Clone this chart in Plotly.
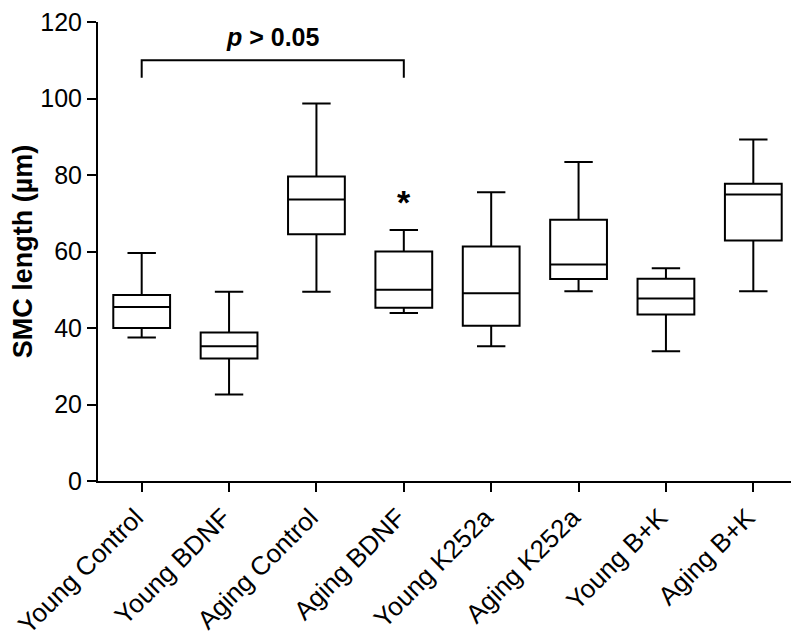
import plotly.graph_objects as go

categories = ["Young Control", "Young BDNF", "Aging Control", "Aging BDNF",
              "Young K252a", "Aging K252a", "Young B+K", "Aging B+K"]
whisker_min = [37.5, 22.6, 49.5, 43.9, 35.2, 49.6, 33.9, 49.6]
q1_vals     = [40.0, 32.0, 64.5, 45.3, 40.6, 52.8, 43.5, 62.9]
median_vals = [45.5, 35.2, 73.6, 50.0, 49.1, 56.6, 47.7, 74.9]
q3_vals     = [48.6, 38.8, 79.6, 60.0, 61.3, 68.3, 52.9, 77.7]
whisker_max = [59.6, 49.5, 98.7, 65.6, 75.5, 83.4, 55.6, 89.3]
y_ticks = [0, 20, 40, 60, 80, 100, 120]

bracket_groups = ["Young Control", "Aging BDNF"]
bracket_level = 110.0
bracket_drop = 4.6
bracket_label = "<b><i>p</i> &gt; 0.05</b>"
bracket_label_y = 116.0
star_group = "Aging BDNF"
star_y = 73.0

FONT = "Liberation Sans, Arial, sans-serif"

fig = go.Figure()
fig.add_trace(go.Box(
    x=categories,
    q1=q1_vals, median=median_vals, q3=q3_vals,
    lowerfence=whisker_min, upperfence=whisker_max,
    boxpoints=False,
    fillcolor="white",
    line=dict(color="black", width=2),
    width=0.65,
    whiskerwidth=0.5,
    showlegend=False,
    hoverinfo="skip",
))

i0 = categories.index(bracket_groups[0])
i1 = categories.index(bracket_groups[1])
fig.add_shape(type="path",
              path=f"M {i0} {bracket_level - bracket_drop} L {i0} {bracket_level} "
                   f"L {i1} {bracket_level} L {i1} {bracket_level - bracket_drop}",
              xref="x", yref="y", line=dict(color="black", width=2))
fig.add_annotation(x=(i0 + i1) / 2, y=bracket_label_y, xref="x", yref="y",
                   text=bracket_label, showarrow=False,
                   font=dict(family=FONT, size=25, color="black"))
fig.add_annotation(x=categories.index(star_group), y=star_y, xref="x", yref="y",
                   text="<b>*</b>", showarrow=False,
                   font=dict(family=FONT, size=34, color="black"))

fig.update_layout(
    width=799, height=643,
    margin=dict(l=90, r=10, t=14, b=170),
    plot_bgcolor="white", paper_bgcolor="white",
    font=dict(family=FONT, color="black"),
)
fig.update_xaxes(
    type="category", range=[-0.5, 7.5], automargin=False,
    showline=True, linecolor="black", linewidth=2,
    ticks="outside", ticklen=9, tickwidth=2, tickcolor="black",
    tickangle=-45, tickfont=dict(family=FONT, size=26, color="black"),
    ticklabelshift=-6, ticklabeloverflow="allow",
    showgrid=False, zeroline=False,
)
fig.update_yaxes(
    range=[0, 120], tickvals=y_ticks, automargin=False,
    showline=True, linecolor="black", linewidth=2,
    ticks="outside", ticklen=9, tickwidth=2, tickcolor="black",
    tickfont=dict(family=FONT, size=25, color="black"),
    ticklabeloverflow="allow",
    showgrid=False, zeroline=False,
    title=dict(text="<b>SMC length (µm)</b>", standoff=26,
               font=dict(family=FONT, size=27, color="black")),
)

fig.write_html("out.html")
